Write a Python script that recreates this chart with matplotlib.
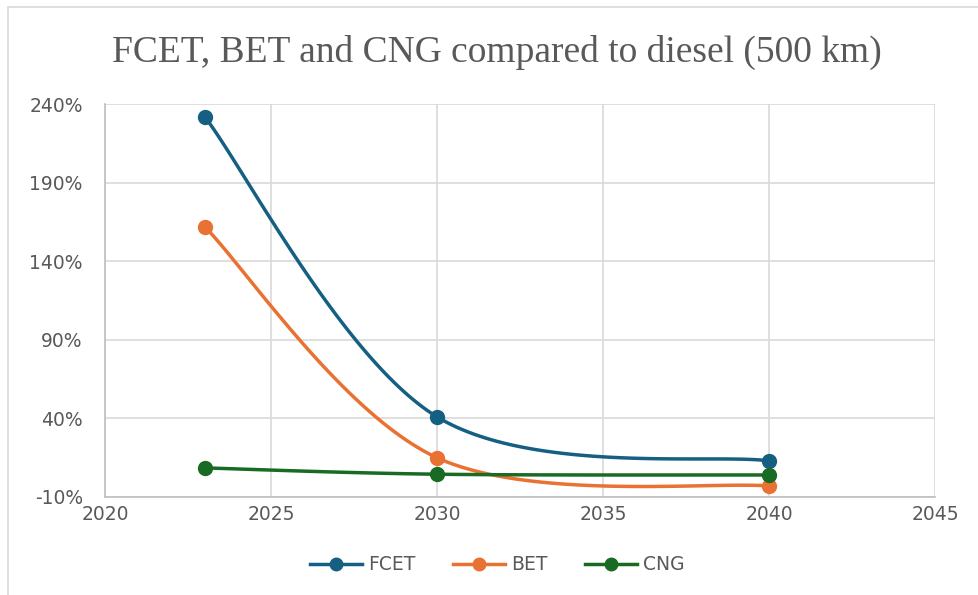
import matplotlib.pyplot as plt
from matplotlib.patches import Rectangle
from matplotlib.ticker import FuncFormatter
import numpy as np

# Data
years = [2023, 2030, 2040]
fcet = [232, 41, 13]
bet = [162, 15, -3]
cng = [8.5, 4.5, 4]

names = ["FCET", "BET", "CNG"]
colors = ["#156082", "#E97132", "#196B24"]

x_ticks = [2020, 2025, 2030, 2035, 2040, 2045]
y_ticks = [-10, 40, 90, 140, 190, 240]


# Excel-like smoothed line: Bezier segments with Catmull-Rom control points
def smooth(xs, ys, steps=60):
    pts = np.column_stack([xs, ys]).astype(float)
    n = len(pts)
    out = []
    for i in range(n - 1):
        p0 = pts[max(i - 1, 0)]
        p1 = pts[i]
        p2 = pts[i + 1]
        p3 = pts[min(i + 2, n - 1)]
        c1 = p1 + (p2 - p0) / 6.0
        c2 = p2 - (p3 - p1) / 6.0
        t = np.linspace(0, 1, steps)[:, None]
        seg = ((1 - t) ** 3) * p1 + 3 * ((1 - t) ** 2) * t * c1 \
            + 3 * (1 - t) * t ** 2 * c2 + t ** 3 * p2
        out.append(seg if i == 0 else seg[1:])
    out = np.vstack(out)
    return out[:, 0], out[:, 1]


fig = plt.figure(figsize=(9.79, 5.95), dpi=100)
fig.patches.append(Rectangle((8 / 979, -0.1), 1.2, 1 - 7 / 595 + 0.1,
                             transform=fig.transFigure, fill=False,
                             edgecolor="#d9d9d9", linewidth=1.2))

ax = fig.add_axes([105 / 979, 98 / 595, 830 / 979, 393 / 595])

for vals, name, col in zip([fcet, bet, cng], names, colors):
    sx, sy = smooth(years, vals)
    ax.plot(sx, sy, color=col, linewidth=2.5, solid_capstyle="round", zorder=3)
    ax.plot(years, vals, "o", color=col, markersize=10, zorder=4)
    # legend proxy
    ax.plot([], [], "-o", color=col, linewidth=2.5, markersize=9, label=name)

ax.set_xlim(2020, 2045)
ax.set_ylim(-10, 240)
ax.set_xticks(x_ticks)
ax.set_yticks(y_ticks)
ax.yaxis.set_major_formatter(FuncFormatter(lambda v, p: "%d%%" % v))

ax.grid(True, color="#d9d9d9", linewidth=1.2)
ax.set_axisbelow(True)
for side in ["top", "right"]:
    ax.spines[side].set_visible(False)
for side in ["left", "bottom"]:
    ax.spines[side].set_color("#bfbfbf")
    ax.spines[side].set_linewidth(1.2)
ax.tick_params(length=0, labelsize=13.5, labelcolor="#595959")
ax.tick_params(axis="y", pad=16)
ax.tick_params(axis="x", pad=6)
for lab in ax.get_xticklabels() + ax.get_yticklabels():
    lab.set_fontfamily("DejaVu Sans")

fig.text(497 / 979, 1 - 52 / 595, "FCET, BET and CNG compared to diesel (500 km)",
         ha="center", va="center", fontsize=27, color="#595959",
         family="Liberation Serif")

leg = fig.legend(loc="center", bbox_to_anchor=(497 / 979, 1 - 565 / 595), ncol=3,
                 frameon=False, fontsize=13.5, handlelength=2.8, columnspacing=2.0,
                 handletextpad=0.3)
for t in leg.get_texts():
    t.set_color("#595959")

fig.savefig("out.png", dpi=100)
